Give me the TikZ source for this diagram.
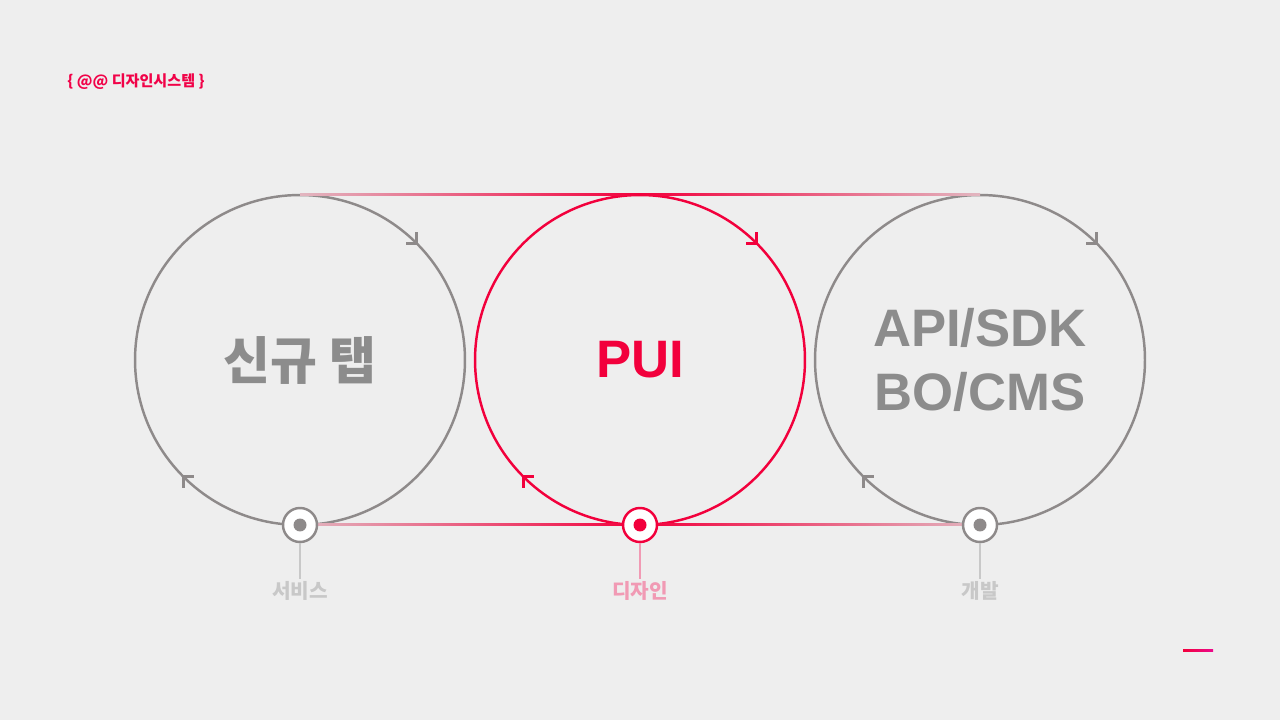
\documentclass[tikz,border=0pt]{standalone}
\usepackage{fontspec}
\setmainfont{Liberation Sans}
\newfontfamily\kr{Noto Sans CJK KR}
\usetikzlibrary{calc}
\definecolor{bggray}{HTML}{EEEEEE}
\definecolor{ringgray}{HTML}{8E8A8A}
\definecolor{txtgray}{HTML}{8C8C8C}
\definecolor{pinkred}{HTML}{F2003C}
\definecolor{palepink}{HTML}{E2B6C0}
\definecolor{lblgray}{HTML}{C8C8C8}
\definecolor{lblpink}{HTML}{F19AB4}
\definecolor{magenta2}{HTML}{EC0A8C}

\begin{document}
\begin{tikzpicture}[x=0.02cm,y=0.02cm,
ring/.style={circle,draw=ringgray,line width=1.4pt,minimum size=6.6cm,inner sep=0pt,align=center,text=txtgray,font=\bfseries\fontsize{30}{36}\selectfont},
dot/.style={circle,draw=ringgray,fill=white,line width=1.4pt,minimum size=0.68cm,inner sep=0pt},
pip/.style={circle,fill=ringgray,minimum size=0.26cm,inner sep=0pt},
lbl/.style={font=\kr\bfseries\fontsize{11.5}{14}\selectfont,text=lblgray,inner sep=1pt},
stem/.style={draw=lblgray,line width=0.7pt},
mk/.style={draw=ringgray,line width=1.7pt,miter limit=10}]
\fill[bggray] (0,0) rectangle (1280,720);
\useasboundingbox (0,0) rectangle (1280,720);
% title
\node[font=\kr\bfseries\fontsize{8.6}{11}\selectfont,text=pinkred!85!magenta2,anchor=west,inner sep=0pt] (ttl) at (67,638) {\{ @@ 디자인시스템 \}};
% circles
\node[ring] (l) at (300,360) {\kr\fontsize{29}{34}\selectfont 신규 탭};
\node[ring,draw=pinkred,text=pinkred] (m) at (640,360) {PUI};
\node[ring] (r) at (980,360) {API/SDK\\BO/CMS};
% tangent lines
\shade[left color=palepink,right color=palepink,middle color=pinkred] ($(l.center)+(0,164)$) rectangle ($(r.center)+(0,166)$);
\shade[left color=palepink,right color=palepink,middle color=pinkred] ($(l.center)+(0,-164)$) rectangle ($(r.center)+(0,-166)$);
% direction marks
\draw[mk] ($(l.center)+(45:165)$) ++(0,11) -- ++(0,-11) -- ++(-11,0);
\draw[mk] ($(l.center)+(225:165)$) ++(0,-11) -- ++(0,11) -- ++(11,0);
\draw[mk,draw=pinkred] ($(m.center)+(45:165)$) ++(0,11) -- ++(0,-11) -- ++(-11,0);
\draw[mk,draw=pinkred] ($(m.center)+(225:165)$) ++(0,-11) -- ++(0,11) -- ++(11,0);
\draw[mk] ($(r.center)+(45:165)$) ++(0,11) -- ++(0,-11) -- ++(-11,0);
\draw[mk] ($(r.center)+(225:165)$) ++(0,-11) -- ++(0,11) -- ++(11,0);
% stages
\node[lbl] (lt) at (300,129) {서비스};
\node[lbl,text=lblpink] (mt) at (640,129) {디자인};
\node[lbl] (rt) at (980,129) {개발};
\node[dot] (ls) at ($(l.center)+(0,-165)$) {};
\node[dot,draw=pinkred] (ms) at ($(m.center)+(0,-165)$) {};
\node[dot] (rs) at ($(r.center)+(0,-165)$) {};
\node[pip] (lp) at (ls) {};
\node[pip,fill=pinkred] (mp) at (ms) {};
\node[pip] (rp) at (rs) {};
\draw[stem] (ls.south) -- (lt.north);
\draw[stem,draw=lblpink] (ms.south) -- (mt.north);
\draw[stem] (rs.south) -- (rt.north);
% corner bar
\shade[left color=pinkred,right color=magenta2] (1183,69) rectangle (1213,71);
\end{tikzpicture}
\end{document}
